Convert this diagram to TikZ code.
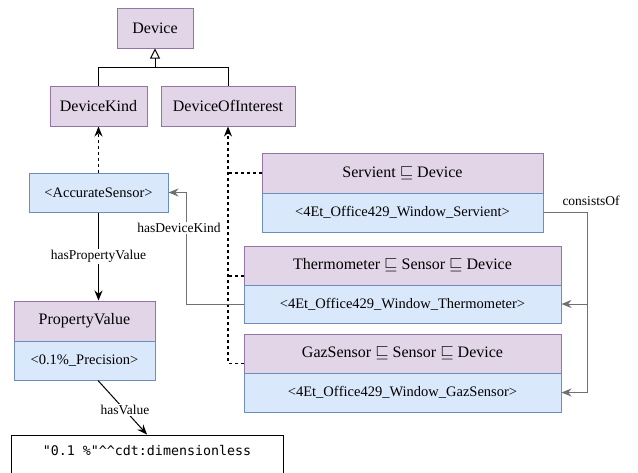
\documentclass[tikz,border=0pt]{standalone}
\usepackage{amssymb}
\usepackage{fontspec}
\newfontfamily\serif{Liberation Serif}
\newfontfamily\codefont{DejaVu Sans Mono}
\usepackage{xcolor}
\usetikzlibrary{arrows.meta,calc}
\definecolor{clsfill}{HTML}{E1D5E7}
\definecolor{clsline}{HTML}{9673A6}
\definecolor{indfill}{HTML}{DAE8FC}
\definecolor{indline}{HTML}{6C8EBF}
\definecolor{relgray}{HTML}{707070}
\newcommand{\ofc}{Of\kern0pt f\kern0pt ice}

\begin{document}
\begin{tikzpicture}[x=1pt,y=-1pt,
	cls/.style={draw=clsline,fill=clsfill,line width=1pt,inner sep=0pt,
		font=\serif\fontsize{16}{18}\selectfont},
	ind/.style={draw=indline,fill=indfill,line width=1pt,inner sep=0pt,
		font=\serif\fontsize{14.5}{17}\selectfont},
	lbl/.style={fill=white,inner sep=1pt,font=\serif\fontsize{13.5}{15}\selectfont},
	isa/.style={dashed,line width=1.2pt},
	rel/.style={draw=relgray,line width=1pt,-{Stealth[length=10pt,width=8pt]}},
	]
	
	\useasboundingbox (0,0) rectangle (638,472);
	
	\coordinate (G) at (155,67);   % the branch point of the hierarchy
	
	% classes on top
	\node[cls,minimum width=76pt,minimum height=40pt] (dev) at (155,28) {Device};
	\node[cls,minimum width=97pt,minimum height=40pt] (dk) at (98.5,106) {DeviceKind};
	\node[cls,minimum width=134pt,minimum height=40pt] (doi) at (228,106) {DeviceOfInterest};
	
	% left column
	\node[ind,minimum width=139pt,minimum height=39pt] (acc) at (98.5,192.5) {<AccurateSensor>};
	\node[cls,minimum width=141pt,minimum height=40pt] (pvHead) at (84.5,321) {PropertyValue};
	\node[ind,minimum width=141pt,minimum height=39pt] (pvVal) at (84.5,360.5) {<0.1\%\_Precision>};
	\node[draw,line width=1pt,minimum width=272pt,minimum height=50pt,
		font=\codefont\fontsize{13.3}{15}\selectfont,text depth=20pt] (lit) at (147,460)
		{"0.1 \%"\textasciicircum\textasciicircum cdt:dimensionless};
	
	% devices on the right
	\node[cls,minimum width=281pt,minimum height=40pt] (servHead) at (402.5,173) {Servient $\sqsubseteq$ Device};
	\node[ind,minimum width=281pt,minimum height=39pt] (servVal) at (402.5,212.5) {<4Et\_\ofc429\_Window\_Servient>};
	\node[cls,minimum width=317pt,minimum height=39pt] (thermHead) at (402.5,265.5) {Thermometer $\sqsubseteq$ Sensor $\sqsubseteq$ Device};
	\node[ind,minimum width=317pt,minimum height=38pt] (thermVal) at (402.5,304) {<4Et\_\ofc429\_Window\_Thermometer>};
	\node[cls,minimum width=317pt,minimum height=39pt] (gazHead) at (402.5,353.5) {GazSensor $\sqsubseteq$ Sensor $\sqsubseteq$ Device};
	\node[ind,minimum width=317pt,minimum height=39pt] (gazVal) at (402.5,392.5) {<4Et\_\ofc429\_Window\_GazSensor>};
	
	\coordinate (t1) at ([yshift=-10.5pt]thermHead.west);
	\coordinate (t2) at ([yshift=-10pt]gazHead.west);
	
	% subclass links
	\draw[line width=1pt,-{Triangle[open,length=10pt,width=10pt]}]
		(dk.north) |- (G) -- (dev.south);
	\draw[line width=1pt] (doi.north) |- (G);
	
	% typing links
	\draw[isa,-{Stealth[length=10pt,width=8pt]}] (acc.north) -- (dk.south);
	\draw[isa,-{Stealth[length=10pt,width=8pt]}] (t2) -| (doi.south);
	\draw[isa] (t1) -- (t1 -| doi.south);
	\draw[isa] (servHead.west) -- (servHead.west -| doi.south);
	
	% properties
	\draw[line width=1pt,-{Stealth[length=10pt,width=8pt]}]
		(acc.south) -- (acc.south |- pvHead.north)
		node[lbl,pos=.5] (hpv) {hasPropertyValue};
	\draw[line width=1pt,-{Stealth[length=10pt,width=8pt]}]
		([xshift=13.5pt]pvVal.south) -- (lit.north)
		node[lbl,pos=.55] (hv) {hasValue};
	\draw[rel] (thermVal.west) -| ([xshift=18pt]acc.east) -- (acc.east);
	\node[lbl] (hdk) at (179,228) {hasDeviceKind};
	\draw[rel] (servVal.east) -| ([xshift=26pt]thermVal.east) -- (thermVal.east);
	\draw[rel] (servVal.east) -| ([xshift=26pt]gazVal.east) -- (gazVal.east);
	\node[lbl,fill=none] (co) at (591,201) {consistsOf};
	
\end{tikzpicture}
\end{document}
